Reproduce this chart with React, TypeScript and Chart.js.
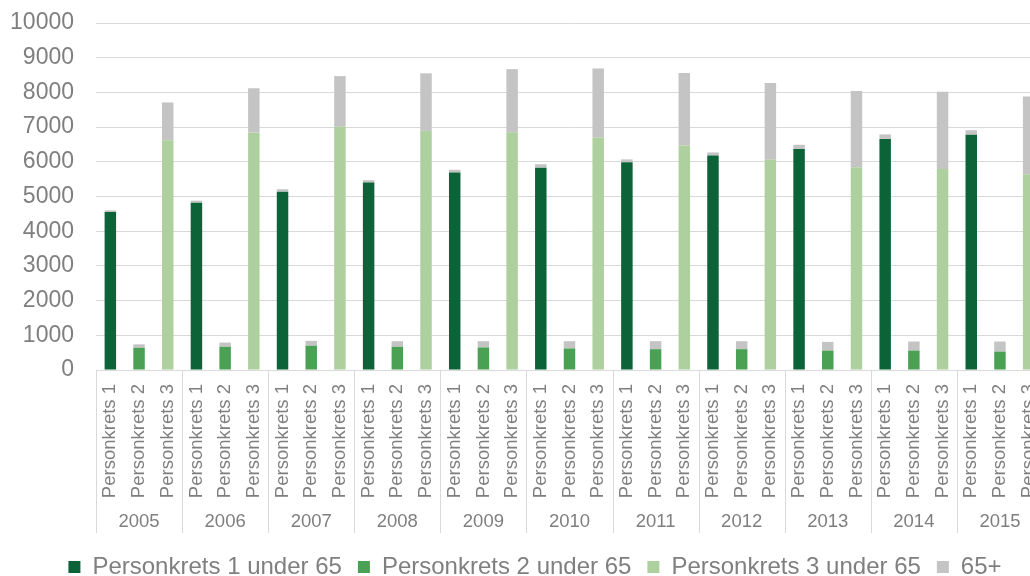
import React, { useEffect, useRef } from 'react';
import { Chart, registerables } from 'chart.js';

Chart.register(...registerables);

const years = ['2005', '2006', '2007', '2008', '2009', '2010', '2011', '2012', '2013', '2014', '2015'];
const groups = ['Personkrets 1', 'Personkrets 2', 'Personkrets 3'];

const pk1Under65 = [4550, 4820, 5140, 5400, 5690, 5830, 5990, 6180, 6370, 6660, 6780];
const pk2Under65 = [640, 670, 700, 670, 650, 620, 600, 600, 560, 560, 530];
const pk3Under65 = [6620, 6840, 7010, 6890, 6850, 6700, 6470, 6060, 5840, 5790, 5640];

const pk1Over65 = [50, 60, 70, 70, 80, 100, 80, 90, 120, 130, 130];
const pk2Over65 = [100, 120, 140, 160, 180, 210, 230, 230, 250, 260, 290];
const pk3Over65 = [1090, 1280, 1460, 1660, 1820, 1990, 2090, 2210, 2200, 2230, 2240];

const seriesNames = ['Personkrets 1 under 65', 'Personkrets 2 under 65', 'Personkrets 3 under 65', '65+'];
const seriesColors = ['#0b6337', '#4aa153', '#aed09f', '#c4c4c4'];

const yMin = 0;
const yMax = 10000;
const yStep = 1000;

const FONT = "'Liberation Sans', Arial, sans-serif";
const TEXT = '#7f7f7f';
const GRID = '#d9d9d9';

export default function App() {
  const ref = useRef<HTMLCanvasElement | null>(null);

  useEffect(() => {
    const canvas = ref.current;
    if (!canvas) return;

    const labels: string[] = [];
    years.forEach(() => groups.forEach((g) => labels.push(g)));

    const under = [pk1Under65, pk2Under65, pk3Under65];
    const underSets = under.map((arr, gi) => {
      const d: (number | null)[] = [];
      years.forEach((_, yi) => {
        groups.forEach((_, k) => d.push(k === gi ? arr[yi] : null));
      });
      return {
        label: seriesNames[gi],
        data: d,
        backgroundColor: seriesColors[gi],
        borderWidth: 0,
      };
    });
    const overData: number[] = [];
    years.forEach((_, yi) => {
      overData.push(pk1Over65[yi], pk2Over65[yi], pk3Over65[yi]);
    });
    const overSet = {
      label: seriesNames[3],
      data: overData,
      backgroundColor: seriesColors[3],
      borderWidth: 0,
    };

    const yearPlugin = {
      id: 'yearGroups',
      afterLayout(chart: any) {
        const lg = chart.legend;
        if (lg) {
          lg.left += 13.5;
          lg.right += 13.5;
        }
      },
      afterDraw(chart: any) {
        const x = chart.scales.x;
        const { ctx, chartArea } = chart;
        const step = x.getPixelForValue(1) - x.getPixelForValue(0);
        ctx.save();
        ctx.strokeStyle = GRID;
        ctx.lineWidth = 1;
        ctx.fillStyle = TEXT;
        ctx.font = `18.5px ${FONT}`;
        ctx.textAlign = 'center';
        ctx.textBaseline = 'middle';
        const drawSep = (px: number) => {
          const xx = Math.round(px) + 0.5;
          ctx.beginPath();
          ctx.moveTo(xx, chartArea.bottom);
          ctx.lineTo(xx, 533);
          ctx.stroke();
        };
        years.forEach((yr, i) => {
          const left = x.getPixelForValue(i * 3) - step / 2;
          const right = x.getPixelForValue(i * 3 + 2) + step / 2;
          drawSep(left);
          if (i === years.length - 1) drawSep(right);
          ctx.fillText(yr, (left + right) / 2, 522);
        });
        ctx.restore();
      },
    };

    const chart = new Chart(canvas, {
      type: 'bar',
      data: { labels, datasets: [...underSets, overSet] as any },
      options: {
        animation: false,
        responsive: false,
        maintainAspectRatio: false,
        layout: { padding: { left: 0, right: 17, top: 23, bottom: 0 } },
        datasets: { bar: { barPercentage: 0.4, categoryPercentage: 1 } },
        plugins: {
          legend: {
            position: 'bottom',
            labels: {
              boxWidth: 12,
              boxHeight: 12,
              padding: 16,
              color: TEXT,
              font: { family: FONT, size: 24 },
            },
          },
          tooltip: { enabled: false },
        },
        scales: {
          x: {
            stacked: true,
            grid: { display: false, drawTicks: false },
            border: { display: false },
            ticks: {
              autoSkip: false,
              minRotation: 90,
              maxRotation: 90,
              padding: 14,
              color: TEXT,
              font: { family: FONT, size: 18.5 },
            },
            afterFit(scale: any) {
              scale.height = 169;
              scale.paddingLeft = 0;
              scale.paddingRight = 0;
            },
          },
          y: {
            stacked: true,
            min: yMin,
            max: yMax,
            grid: { color: GRID, lineWidth: 1, drawTicks: false },
            border: { display: false },
            ticks: {
              stepSize: yStep,
              padding: 22,
              color: TEXT,
              font: { family: FONT, size: 23 },
              callback: (v: any) => String(v),
            },
            afterFit(scale: any) {
              scale.width = 96;
              scale.paddingTop = 0;
              scale.paddingBottom = 0;
            },
          },
        },
      },
      plugins: [yearPlugin],
    });

    return () => chart.destroy();
  }, []);

  return (
    <div
      style={{
        position: 'fixed',
        left: 0,
        top: 0,
        width: 1030,
        height: 576,
        overflow: 'hidden',
        background: '#ffffff',
      }}
    >
      <canvas ref={ref} width={1060} height={589} style={{ display: 'block', width: 1060, height: 589 }} />
    </div>
  );
}
